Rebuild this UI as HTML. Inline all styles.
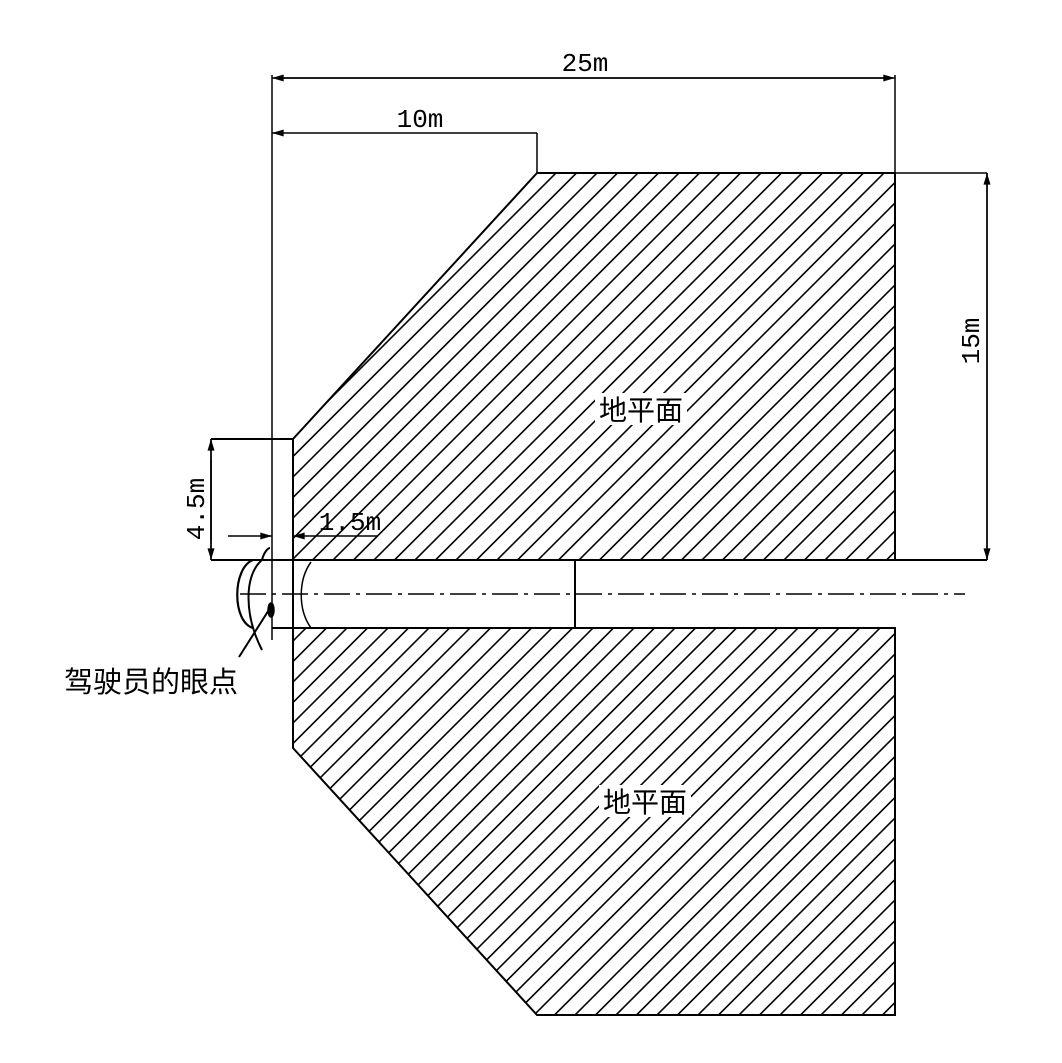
<!DOCTYPE html>
<html><head><meta charset="utf-8"><style>html,body{margin:0;padding:0;background:#fff}svg{display:block}</style></head>
<body>
<svg width="1062" height="1063" viewBox="0 0 1062 1063" xmlns="http://www.w3.org/2000/svg">
<defs>
<clipPath id="c1"><polygon points="293,439 537,173 895,173 895,560 293,560"/></clipPath>
<clipPath id="c2"><polygon points="293,628 895,628 895,1015 537,1015 293,748"/></clipPath>
<marker id="a" viewBox="0 0 10 6" refX="10" refY="3" markerWidth="20" markerHeight="7" markerUnits="userSpaceOnUse" orient="auto"><path d="M0,0 L10,3 L0,6 Z" fill="#000"/></marker>
</defs>
<g stroke="#000" stroke-width="1.6">
<g clip-path="url(#c1)" id="g1"></g>
<g clip-path="url(#c2)" id="g2"></g>
</g>
<script>
(function(){var ns="http://www.w3.org/2000/svg";["g1","g2"].forEach(function(id){var g=document.getElementById(id);for(var c=893-20.5*40;c<2100;c+=20.5){var l=document.createElementNS(ns,"line");l.setAttribute("x1",c-1100);l.setAttribute("y1",1100);l.setAttribute("x2",c);l.setAttribute("y2",0);g.appendChild(l);}});})();
</script>
<g stroke="#000" stroke-width="2" fill="none">
<polygon points="293,439 537,173 895,173 895,560 293,560"/>
<polygon points="293,628 895,628 895,1015 537,1015 293,748"/>
<line x1="211" y1="560" x2="987" y2="560"/>
<line x1="211" y1="439" x2="293" y2="439"/>
<line x1="272" y1="628" x2="293" y2="628"/>
<line x1="293" y1="560" x2="293" y2="628"/>
<line x1="575" y1="560" x2="575" y2="628"/>
</g>
<g stroke="#000" stroke-width="1.5" fill="none">
<line x1="272" y1="75" x2="272" y2="640"/>
<line x1="895" y1="75" x2="895" y2="173"/>
<line x1="537" y1="133" x2="537" y2="173"/>
<line x1="895" y1="173" x2="987" y2="173"/>
<line x1="211" y1="439" x2="211" y2="560"/>
<line x1="275" y1="78" x2="895" y2="78" marker-end="url(#a)"/>
<line x1="892" y1="78" x2="272" y2="78" marker-end="url(#a)"/>
<line x1="537" y1="133" x2="272" y2="133" marker-end="url(#a)"/>
<line x1="987" y1="560" x2="987" y2="173" marker-end="url(#a)"/>
<line x1="987" y1="173" x2="987" y2="560" marker-end="url(#a)"/>
<line x1="211" y1="540" x2="211" y2="439" marker-end="url(#a)"/>
<line x1="211" y1="460" x2="211" y2="560" marker-end="url(#a)"/>
<line x1="228" y1="536" x2="272" y2="536" marker-end="url(#a)"/>
<line x1="378" y1="536" x2="293" y2="536" marker-end="url(#a)"/>
<line x1="240" y1="594" x2="965" y2="594" stroke-dasharray="26,6,4,6"/>
<path d="M253,560 C232,568 232,622 253,628" stroke-width="2.2"/>
<path d="M262,560 C244,575 244,615 262,650" stroke-width="2"/>
<path d="M262,560 C264,552 268,548 270,548" stroke-width="2"/>
<path d="M311,562 C298,580 298,610 311,628"/>
<ellipse cx="271" cy="610" rx="3" ry="7" fill="#000"/>
<line x1="272" y1="605" x2="239" y2="657" stroke-width="2"/>
</g>
<g font-family="'Liberation Mono','Noto Sans CJK SC',monospace" font-size="26" fill="#000">
<text x="585" y="71" text-anchor="middle">25m</text>
<text x="420" y="127" text-anchor="middle">10m</text>
<text x="350" y="530" text-anchor="middle">1.5m</text>
<text transform="translate(979,341) rotate(-90)" text-anchor="middle">15m</text>
<text transform="translate(204,509) rotate(-90)" text-anchor="middle">4.5m</text>
</g>
<g font-family="'Liberation Sans','Noto Sans CJK SC',sans-serif" font-size="28" fill="#000">
<rect x="595" y="393" width="92" height="32" fill="#fff"/>
<text x="641" y="420" text-anchor="middle">地平面</text>
<rect x="599" y="785" width="92" height="32" fill="#fff"/>
<text x="645" y="812" text-anchor="middle">地平面</text>
<text x="151" y="692" text-anchor="middle" font-size="29">驾驶员的眼点</text>
</g>
</svg>
</body></html>
